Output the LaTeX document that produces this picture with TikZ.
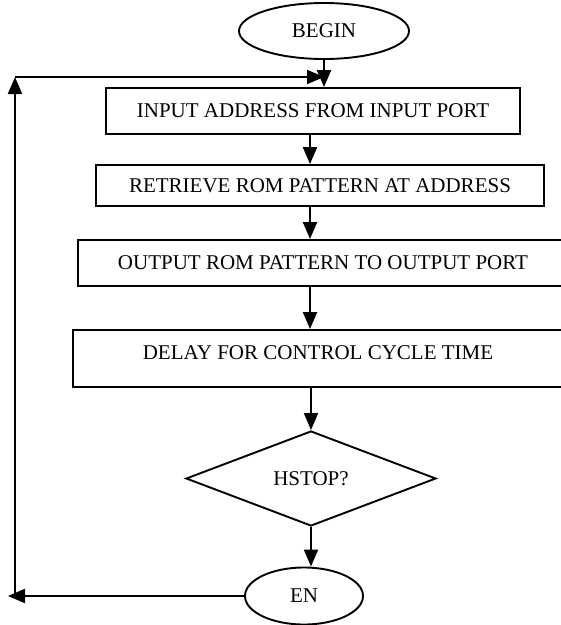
\documentclass[tikz,border=0pt]{standalone}
\usepackage{fontspec}
\setmainfont{Liberation Serif}
\usetikzlibrary{arrows.meta,shapes.geometric}

\begin{document}
\begin{tikzpicture}[x=1pt,y=-1pt,
	every node/.style={font=\fontsize{21}{25}\selectfont},
	procbox/.style={draw, line width=1.9pt, rectangle, inner sep=0pt},
	termnode/.style={draw, line width=1.9pt, ellipse, inner sep=0pt},
	decnode/.style={draw, line width=1.9pt, diamond, inner sep=0pt},
	arr/.style={line width=2pt, -{Triangle[length=17pt,width=14pt]}}]
	\clip (0,0) rectangle (561,625);
	% terminals, boxes and test
	\node[termnode, minimum width=170pt, minimum height=56pt] (begin) at (324,31) {BEGIN};
	\node[procbox, minimum width=414pt, minimum height=46pt] (input) at (313,111) {INPUT ADDRESS FROM INPUT PORT};
	\node[procbox, minimum width=448pt, minimum height=41pt] (retr) at (320,185.5) {RETRIEVE ROM PATTERN AT ADDRESS};
	\node[procbox, minimum width=490pt, minimum height=46pt] (outp) at (323,263) {OUTPUT ROM PATTERN TO OUTPUT PORT};
	\node[procbox, minimum width=490pt, minimum height=57pt, text depth=12pt] (delay) at (318,358.5) {DELAY FOR CONTROL CYCLE TIME};
	\node[decnode, minimum width=250pt, minimum height=95pt] (hstop) at (311,478.5) {HSTOP?};
	\node[termnode, minimum width=118pt, minimum height=57pt] (en) at (304,596) {EN};
	% helper points
	\coordinate (ax) at (310,0);
	\coordinate (looptl) at (15,77);
	\coordinate (loopbl) at (15,596);
	\coordinate (loopend) at (8,596);
	% main flow
	\draw[arr] (begin.south) -- (input.north -| begin.south);
	\draw[arr] (input.south -| ax) -- (retr.north -| ax);
	\draw[arr] (retr.south -| ax) -- (outp.north -| ax);
	\draw[arr] (outp.south -| ax) -- (delay.north -| ax);
	\draw[arr] (delay.south -| hstop.north) -- (hstop.north);
	\draw[arr] (hstop.south) -- (en.north -| hstop.south);
	% loop back
	\draw[arr] (en.west) -- (loopend);
	\draw[arr] (loopbl) -- (looptl);
	\draw[arr] (looptl) -- (looptl -| begin.south);
\end{tikzpicture}
\end{document}
